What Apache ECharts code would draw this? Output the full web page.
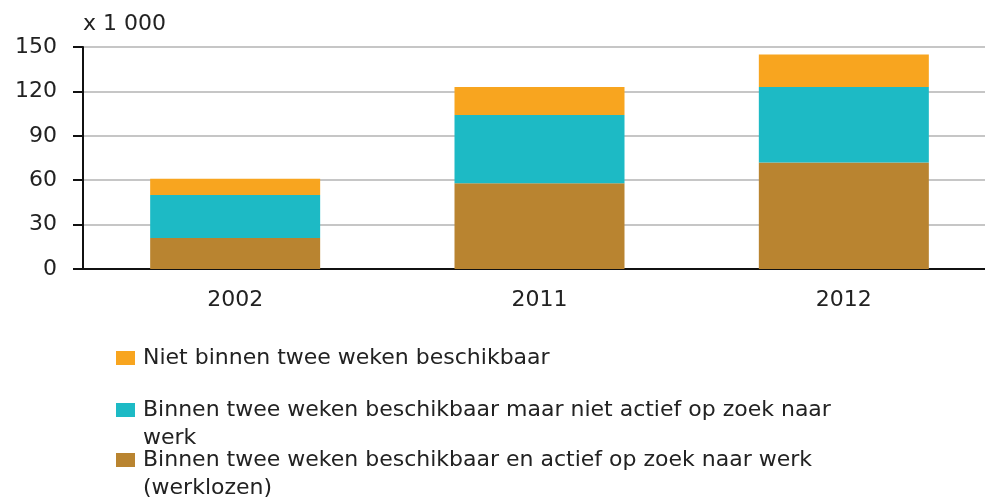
<!DOCTYPE html>
<html lang="nl">
<head>
  <meta charset="UTF-8">
  <title>Werkzoekenden</title>
  <script src="https://cdn.jsdelivr.net/npm/echarts@6/dist/echarts.min.js"></script>
  <style>
    html, body { margin: 0; padding: 0; background: #fff; }
    #chart { width: 985px; height: 497px; }
  </style>
</head>
<body>
<div id="chart"></div>
<script>
  // data (x 1 000)
  const years = ["2002", "2011", "2012"];
  const seriesNames = [
    "Niet binnen twee weken beschikbaar",
    "Binnen twee weken beschikbaar maar niet actief op zoek naar werk",
    "Binnen twee weken beschikbaar en actief op zoek naar werk (werklozen)"
  ];
  const nietBeschikbaar = [11, 19, 22];
  const nietActief = [29, 46, 51];
  const werklozen = [21, 58, 72];
  const unitLabel = "x 1 000";

  const colors = { oranje: "#f8a51f", blauw: "#1dbac5", bruin: "#b98430" };
  const font = "DejaVu Sans";

  const chart = echarts.init(document.getElementById("chart"));

  // one legend per item so the rows sit where they do in the original;
  // a leading empty line keeps the icon level with the first text line
  function legendAt(name, top, twoLines) {
    return {
      data: [name],
      left: 116,
      top: top,
      orient: "vertical",
      padding: 0,
      itemWidth: 19,
      itemHeight: 14,
      icon: "rect",
      selectedMode: false,
      formatter: twoLines ? (n) => "\n" + n : "{name}",
      textStyle: {
        fontFamily: font,
        fontSize: 22,
        color: "#222",
        lineHeight: 28,
        width: twoLines ? 720 : undefined,
        overflow: twoLines ? "break" : "none",
        padding: [0, 0, 0, 3]
      }
    };
  }

  chart.setOption({
    animation: false,
    backgroundColor: "#fff",
    textStyle: { fontFamily: font },
    // plot runs a little past the right edge, as in the original
    grid: { left: 83, width: 913, top: 47, bottom: 228, outerBoundsMode: "none", containLabel: false },
    legend: [
      legendAt(seriesNames[0], 344, false),
      legendAt(seriesNames[1], 368, true),
      legendAt(seriesNames[2], 418, true)
    ],
    xAxis: {
      type: "category",
      data: years,
      axisTick: { show: false },
      axisLine: { lineStyle: { color: "#111", width: 2 } },
      axisLabel: { fontFamily: font, fontSize: 22, color: "#222", margin: 20 }
    },
    yAxis: {
      type: "value",
      min: 0,
      max: 150,
      interval: 30,
      name: unitLabel,
      nameLocation: "end",
      nameGap: 23,
      nameTextStyle: { fontFamily: font, fontSize: 22, color: "#222", align: "left", verticalAlign: "middle" },
      axisLine: { show: true, lineStyle: { color: "#111", width: 2 } },
      axisTick: { show: true, length: 10, lineStyle: { color: "#111", width: 2 } },
      axisLabel: { fontFamily: font, fontSize: 22, color: "#222", margin: 26 },
      splitLine: { lineStyle: { color: "#c6c6c6", width: 2 } }
    },
    series: [
      { name: seriesNames[2], type: "bar", stack: "t", data: werklozen, barWidth: 170, itemStyle: { color: colors.bruin } },
      { name: seriesNames[1], type: "bar", stack: "t", data: nietActief, barWidth: 170, itemStyle: { color: colors.blauw } },
      { name: seriesNames[0], type: "bar", stack: "t", data: nietBeschikbaar, barWidth: 170, itemStyle: { color: colors.oranje } }
    ]
  });
</script>
</body>
</html>
